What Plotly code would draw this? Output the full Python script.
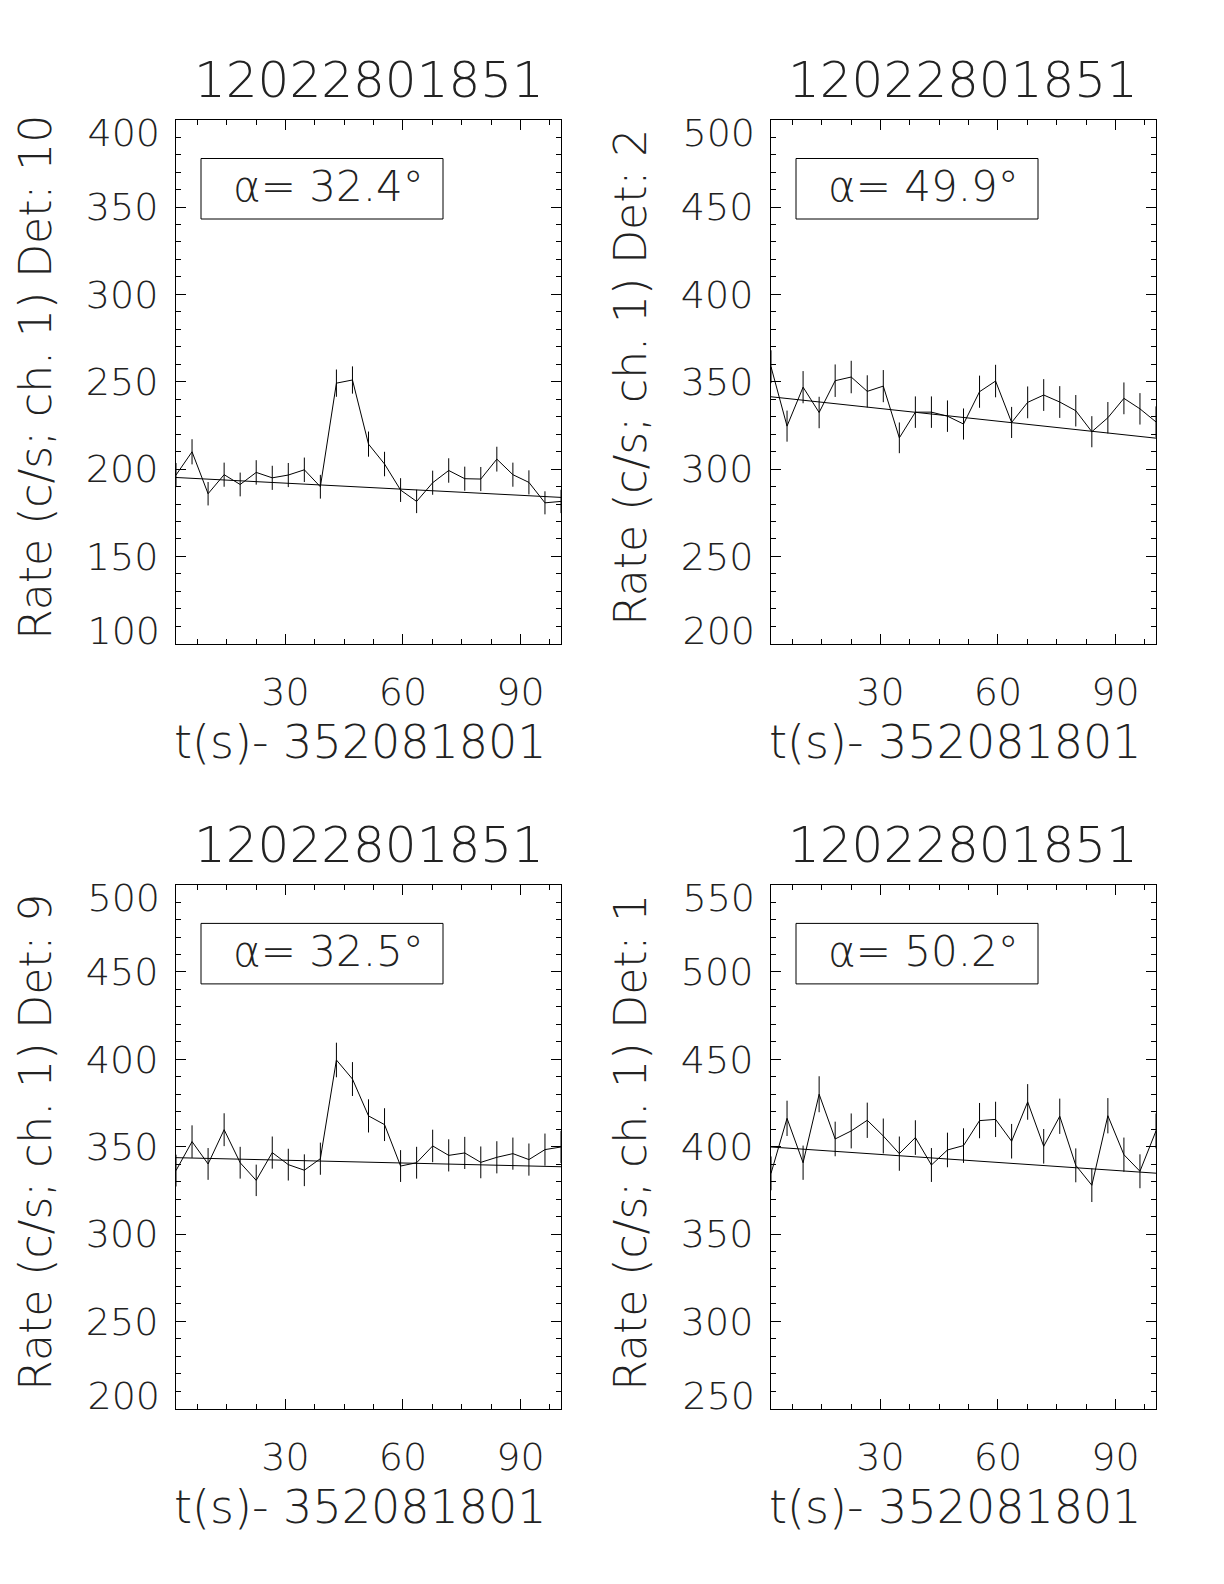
import plotly.graph_objects as go

# ---------------- data ----------------
t_bins = [2.048, 6.144, 10.24, 14.336, 18.432, 22.528, 26.624, 30.72, 34.816, 38.912,
          43.008, 47.104, 51.2, 55.296, 59.392, 63.488, 67.584, 71.68, 75.776, 79.872,
          83.968, 88.064, 92.16, 96.256, 100.352]
x_range = [2.048, 100.352]
x_ticks = [30, 60, 90]

title_text = "12022801851"
x_title = "t(s)- 352081801"

det_labels = ["10", "2", "9", "1"]
alpha_vals = ["32.4", "49.9", "32.5", "50.2"]

rate_det10 = [196.6, 209.9, 185.9, 196.8, 191.2, 198.1, 195.0, 196.6, 199.6, 189.9,
              249.2, 251.0, 214.3, 202.9, 188.0, 181.5, 192.2, 199.2, 194.5, 194.3,
              205.7, 196.8, 192.4, 180.7, 181.5]
err_det10 = [6.9, 7.2, 6.7, 6.9, 6.8, 7.0, 6.9, 6.9, 7.0, 6.8, 7.8, 7.8, 7.2, 7.0, 6.8,
             6.7, 6.9, 7.0, 6.9, 6.9, 7.1, 6.9, 6.9, 6.6, 6.7]
bkg_det10 = [195.2, 183.8]

rate_det2 = [358.6, 324.6, 346.9, 332.4, 350.6, 352.7, 344.5, 347.5, 317.9, 332.6,
             332.6, 330.3, 325.8, 344.3, 350.4, 326.7, 338.2, 342.4, 338.4, 333.4,
             321.4, 329.4, 340.5, 334.5, 327.0]
err_det2 = [9.4, 8.9, 9.2, 9.0, 9.3, 9.3, 9.2, 9.2, 8.8, 9.0, 9.0, 9.0, 8.9, 9.2, 9.3,
            8.9, 9.1, 9.1, 9.1, 9.0, 8.9, 9.0, 9.1, 9.0, 8.9]
bkg_det2 = [341.4, 317.7]

rate_det9 = [336.3, 352.9, 340.1, 359.7, 340.8, 330.7, 346.6, 339.7, 336.5, 343.1,
             399.6, 388.7, 367.6, 362.6, 338.9, 340.8, 350.4, 345.0, 346.4, 341.0,
             343.9, 346.0, 342.6, 348.3, 349.8]
err_det9 = [9.1, 9.3, 9.1, 9.4, 9.1, 9.0, 9.2, 9.1, 9.1, 9.2, 9.9, 9.7, 9.5, 9.4, 9.1,
            9.1, 9.3, 9.2, 9.2, 9.1, 9.2, 9.2, 9.2, 9.2, 9.2]
bkg_det9 = [343.7, 338.5]

rate_det1 = [384.7, 416.2, 390.8, 430.0, 404.4, 409.0, 415.1, 406.1, 396.0, 405.2,
             389.5, 398.1, 400.6, 414.9, 415.6, 403.1, 425.6, 400.2, 417.4, 389.3,
             377.9, 417.7, 395.4, 385.9, 409.0]
err_det1 = [9.7, 10.1, 9.8, 10.3, 9.9, 10.0, 10.1, 10.0, 9.8, 9.9, 9.7, 9.9, 9.9, 10.1,
            10.1, 9.9, 10.2, 9.9, 10.1, 9.7, 9.6, 10.1, 9.8, 9.7, 10.0]
bkg_det1 = [399.8, 384.8]

y_ticks_det10 = [100, 150, 200, 250, 300, 350, 400]
y_ticks_det2 = [200, 250, 300, 350, 400, 450, 500]
y_ticks_det9 = [200, 250, 300, 350, 400, 450, 500]
y_ticks_det1 = [250, 300, 350, 400, 450, 500, 550]

rates = [rate_det10, rate_det2, rate_det9, rate_det1]
errs = [err_det10, err_det2, err_det9, err_det1]
bkgs = [bkg_det10, bkg_det2, bkg_det9, bkg_det1]
y_ticks = [y_ticks_det10, y_ticks_det2, y_ticks_det9, y_ticks_det1]

# ---------------- layout geometry (page pixels) ----------------
OFF = 8                      # default body margin of the html page
W, H = 1224 - 2 * OFF, 1584 - 2 * OFF
FONT = "DejaVu Sans"
WEIGHT = 200
TXT = "#222"
TICK_FONT = dict(family=FONT, size=38, color=TXT, weight=WEIGHT)
END_LABEL_INSET_PX = 13      # end tick labels are nudged inward to stay inside the frame
panel_px = [  # (left, right, top, bottom) in page pixels
    (176, 561, 119.7, 643.8),
    (771, 1156, 119.7, 643.8),
    (176, 561, 884.6, 1408.7),
    (771, 1156, 884.6, 1408.7),
]


def px_x(x):
    return (x - OFF) / W


def px_y(y):
    return 1 - (y - OFF) / H


fig = go.Figure()
annotations = []
shapes = []

for i in range(4):
    l, r, tp, bt = panel_px[i]
    sfx = "" if i == 0 else str(i + 1)
    xa, ya = "x" + sfx, "y" + sfx
    yt = y_ticks[i]
    yr = [yt[0], yt[-1]]

    fig.add_trace(go.Scatter(
        x=t_bins, y=rates[i], mode="lines", xaxis=xa, yaxis=ya,
        line=dict(color="black", width=1),
        error_y=dict(type="data", array=errs[i], width=0, thickness=1, color="black"),
        showlegend=False, hoverinfo="skip"))
    fig.add_trace(go.Scatter(
        x=x_range, y=bkgs[i], mode="lines", xaxis=xa, yaxis=ya,
        line=dict(color="black", width=1), showlegend=False, hoverinfo="skip"))

    common = dict(
        showline=True, linecolor="black", linewidth=1, mirror="ticks",
        ticks="inside", ticklen=10, tickwidth=1, tickcolor="black",
        showgrid=False, zeroline=False, automargin=False,
        tickfont=TICK_FONT, fixedrange=True,
    )
    fig.layout["xaxis" + sfx] = dict(
        common, domain=[px_x(l), px_x(r)], range=x_range, anchor=ya,
        tickmode="array", tickvals=x_ticks, ticktext=[str(v) for v in x_ticks],
        ticklabelstandoff=15,
        minor=dict(dtick=7.5, tick0=0, ticks="inside", ticklen=5, tickcolor="black", tickwidth=1),
    )
    # main y axis: all tick marks, inner labels centred on their ticks
    fig.layout["yaxis" + sfx] = dict(
        common, domain=[px_y(bt), px_y(tp)], range=yr, anchor=xa,
        tickmode="array", tickvals=yt,
        ticktext=[""] + [str(v) for v in yt[1:-1]] + [""],
        ticklabelstandoff=9,
        minor=dict(dtick=10, tick0=0, ticks="inside", ticklen=5, tickcolor="black", tickwidth=1),
    )
    # label-only overlay axis for the two end labels, nudged inward
    inset = END_LABEL_INSET_PX * (yr[1] - yr[0]) / (bt - tp)
    n = 5 + i
    yname = "y" + str(n)
    fig.layout["yaxis" + str(n)] = dict(
        overlaying=ya, anchor=xa, range=yr, side="left",
        tickmode="array", tickvals=[yt[0] + inset, yt[-1] - inset],
        ticktext=[str(yt[0]), str(yt[-1])],
        ticks="", showline=False, showgrid=False, zeroline=False,
        automargin=False, ticklabeloverflow="allow",
        ticklabelstandoff=15, tickfont=TICK_FONT, fixedrange=True,
    )
    fig.add_trace(go.Scatter(x=[None], y=[None], xaxis=xa, yaxis=yname,
                             mode="lines", showlegend=False, hoverinfo="skip"))

    cx = (l + r) / 2
    cy = (tp + bt) / 2
    # panel title
    annotations.append(dict(
        text=title_text, x=px_x(cx), y=px_y(tp - 40), xref="paper", yref="paper",
        xanchor="center", yanchor="middle", showarrow=False,
        font=dict(family=FONT, size=50, color=TXT, weight=WEIGHT)))
    # x title
    annotations.append(dict(
        text=x_title, x=px_x(cx - 8), y=px_y(bt + 98), xref="paper", yref="paper",
        xanchor="center", yanchor="middle", showarrow=False,
        font=dict(family=FONT, size=46, color=TXT, weight=WEIGHT)))
    # y title
    annotations.append(dict(
        text="Rate (c/s; ch. 1) Det: " + det_labels[i], x=px_x(l - 140), y=px_y(cy - 4),
        xref="paper", yref="paper", xanchor="center", yanchor="middle",
        textangle=-90, showarrow=False,
        font=dict(family=FONT, size=44, color=TXT, weight=WEIGHT)))
    # alpha box
    pw, ph = r - l, bt - tp
    shapes.append(dict(
        type="rect", xref=xa + " domain", yref=ya + " domain",
        x0=25 / pw, x1=267 / pw, y0=(ph - 99.3) / ph, y1=(ph - 38.8) / ph,
        line=dict(color="black", width=1), fillcolor="rgba(0,0,0,0)"))
    annotations.append(dict(
        text="α= " + alpha_vals[i] + "°", x=152 / pw, y=(ph - 67) / ph,
        xref=xa + " domain", yref=ya + " domain", xanchor="center", yanchor="middle",
        showarrow=False, font=dict(family=FONT, size=42, color=TXT, weight=WEIGHT)))

fig.update_layout(
    template="none",
    width=W, height=H, autosize=False,
    margin=dict(l=0, r=0, t=0, b=0, pad=0),
    paper_bgcolor="white", plot_bgcolor="white",
    annotations=annotations, shapes=shapes,
)

fig.write_html("out.html")
